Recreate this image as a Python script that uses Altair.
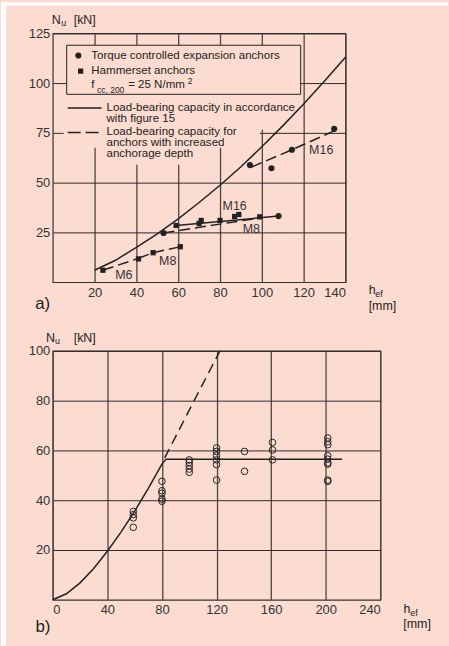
import altair as alt
import pandas as pd

PEACH = "#fcdcd0"
INK = "#222222"
LBL = "#333333"
FONT = "Liberation Sans"

# ---------------- panel a) data ----------------
a_curve_h = [20, 30, 40, 50, 60, 70, 80, 90, 100, 110, 120, 130, 140]
a_curve_N = [6.0, 11.0, 17.5, 24.3, 31.8, 40.0, 48.7, 58.0, 68.0, 78.5, 89.5, 101.0, 113.0]

a_torque_h = [53, 108, 94.3, 104.6, 114.4, 134.6]
a_torque_N = [24.7, 33.2, 58.8, 57.2, 66.5, 77.0]

a_hammer_h = [24, 41, 48, 61, 59, 70, 71, 80, 87, 89, 99]
a_hammer_N = [6.0, 11.7, 14.8, 17.8, 28.5, 29.5, 31.0, 31.0, 33.0, 34.0, 32.8]

a_solid_series = ["M16", "M16"]
a_solid_h = [59, 108]
a_solid_N = [28.5, 33.2]

a_dash_series = ["M6", "M6", "M8a", "M8a", "M8a", "M8b", "M8b", "M16u", "M16u", "M16u"]
a_dash_h = [24, 41, 41, 48, 61, 53, 99, 95, 114.4, 134.6]
a_dash_N = [6.0, 12.0, 12.0, 14.8, 17.8, 24.7, 32.3, 57.8, 66.5, 76.0]

a_label_text = ["M6", "M8", "M16", "M8", "M16"]
a_label_h = [34, 55, 87, 95, 128.4]
a_label_N = [3.6, 10.5, 38.4, 26.9, 66.2]

a_x_ticks = [20, 40, 60, 80, 100, 120, 140]
a_y_ticks = [25, 50, 75, 100, 125]

# ---------------- panel b) data ----------------
b_solid_h = [0, 10, 20, 30, 40, 50, 60, 70, 80, 83, 212]
b_solid_N = [0, 2.4, 6.8, 12.6, 19.5, 27.2, 35.6, 44.8, 54.5, 56.5, 56.5]

b_dash_h = [82, 102, 122.5]
b_dash_N = [57.0, 78.3, 100.0]

b_test_h = ([59] * 4 + [80] * 5 + [100] * 5 + [120] * 6 + [140.5] * 2
            + [161] * 3 + [201.5] * 9)
b_test_N = ([35.5, 34.2, 32.9, 29.1]
            + [47.6, 43.8, 42.8, 40.5, 39.6]
            + [56.2, 55.2, 53.9, 52.5, 51.2]
            + [61.0, 59.6, 57.9, 56.2, 54.3, 48.1]
            + [59.6, 51.6]
            + [63.2, 60.2, 56.2]
            + [65.0, 63.5, 62.3, 57.9, 56.5, 55.0, 54.5, 48.1, 47.6])

b_x_ticks = [0, 40, 80, 120, 160, 200, 240]
b_y_ticks = [20, 40, 60, 80, 100]

ONE = pd.DataFrame({"k": [0]})


def ptext(txt, x, y, size=12, align="left", baseline="middle"):
    return alt.Chart(ONE).mark_text(
        text=txt, align=align, baseline=baseline, fontSize=size, font=FONT, color=INK
    ).encode(x=alt.value(x), y=alt.value(y))


def prect(x, x2, y, y2, fill, stroke=None, sw=0):
    kw = dict(fill=fill, strokeWidth=sw)
    if stroke:
        kw["stroke"] = stroke
    return alt.Chart(ONE).mark_rect(**kw).encode(
        x=alt.value(x), x2=alt.value(x2), y=alt.value(y), y2=alt.value(y2))


def prule(x, x2, y, dash=None):
    kw = dict(color=INK, strokeWidth=1.5)
    if dash:
        kw["strokeDash"] = dash
    return alt.Chart(ONE).mark_rule(**kw).encode(
        x=alt.value(x), x2=alt.value(x2), y=alt.value(y))


def axis(vals, orient):
    return alt.Axis(values=vals, grid=True, ticks=False, domain=False, title=None,
                    labelFont=FONT, labelFontSize=13, labelColor=LBL,
                    labelPadding=3 if orient == "y" else 4,
                    gridColor="#4a4644" if orient == "x" else "#2a2a2a",
                    gridWidth=1.3 if orient == "x" else 1)

LT = 11.6  # legend text size

# ---------------- panel a) ----------------
AW, AH = 294, 250
xa = alt.X("h:Q", scale=alt.Scale(domain=[0, 140], nice=False, zero=False), axis=axis(a_x_ticks, "x"))
ya = alt.Y("N:Q", scale=alt.Scale(domain=[0, 125], nice=False, zero=False), axis=axis(a_y_ticks, "y"))

a_curve = pd.DataFrame({"h": a_curve_h, "N": a_curve_N})
a_torque = pd.DataFrame({"h": a_torque_h, "N": a_torque_N})
a_hammer = pd.DataFrame({"h": a_hammer_h, "N": a_hammer_N})
a_solid = pd.DataFrame({"s": a_solid_series, "h": a_solid_h, "N": a_solid_N})
a_dash = pd.DataFrame({"s": a_dash_series, "h": a_dash_h, "N": a_dash_N})
a_lab = pd.DataFrame({"t": a_label_text, "h": a_label_h, "N": a_label_N})

a_layers = [
    # white page margins (left / top)
    prect(-52, -47, -31, 615, "white"),
    prect(-52, 397, -31, -28, "white"),
    # blanks behind the legend text
    prect(11, 214, 61, 97, PEACH),
    prect(11, 208, 97, 115, PEACH),
    prect(48, 163, 115, 132, PEACH),
    prect(14, 249, 12, 61.3, PEACH, stroke=INK, sw=1),
    alt.Chart(a_curve).mark_line(color=INK, strokeWidth=1.5).encode(x=xa, y=ya),
    alt.Chart(a_solid).mark_line(color=INK, strokeWidth=1.5).encode(x=xa, y=ya, detail="s:N"),
    alt.Chart(a_dash).mark_line(color=INK, strokeWidth=1.5, strokeDash=[11, 5]).encode(x=xa, y=ya, detail="s:N"),
    alt.Chart(a_torque).mark_point(shape="circle", filled=True, size=38, color=INK, opacity=1).encode(x=xa, y=ya),
    alt.Chart(a_hammer).mark_point(shape="square", filled=True, size=28, color=INK, opacity=1).encode(x=xa, y=ya),
    alt.Chart(a_lab).mark_text(font=FONT, fontSize=12.5, color=LBL).encode(x=xa, y=ya, text="t:N"),
    # legend
    alt.Chart(ONE).mark_point(shape="circle", filled=True, size=38, color=INK, opacity=1).encode(x=alt.value(25.7), y=alt.value(22.3)),
    alt.Chart(ONE).mark_point(shape="square", filled=True, size=28, color=INK, opacity=1).encode(x=alt.value(28), y=alt.value(38)),
    ptext("Torque controlled expansion anchors", 38.7, 23.3, size=LT),
    ptext("Hammerset anchors", 38.7, 37.7, size=LT),
    ptext("f", 38.7, 52.3, size=LT),
    ptext("cc, 200", 44.5, 56.5, size=8.5),
    ptext("= 25 N/mm", 75.7, 52.3, size=LT),
    ptext("2", 135.5, 48.3, size=8.5),
    prule(15, 49, 75),
    ptext("Load-bearing capacity in accordance", 54, 74.8, size=LT),
    ptext("with figure 15", 54, 86, size=LT),
    prule(15, 49, 99.7, dash=[13, 5]),
    ptext("Load-bearing capacity for", 54, 98.8, size=LT),
    ptext("anchors with increased", 54, 110.2, size=LT),
    ptext("anchorage depth", 54, 121.6, size=LT),
    # axis titles / panel label
    ptext("N", -1, -13, size=12.5),
    ptext("u", 8.5, -10, size=9),
    ptext("[kN]", 21, -13, size=12.5),
    ptext("h", 317.3, 258, size=12.5),
    ptext("ef", 324, 262, size=9),
    ptext("[mm]", 317.3, 274, size=12.5),
    ptext("a)", -17.7, 272.3, size=17),
]
panel_a = alt.layer(*a_layers).properties(width=AW, height=AH)

# ---------------- panel b) ----------------
BW, BH = 329, 250
xb = alt.X("h:Q", scale=alt.Scale(domain=[0, 240], nice=False, zero=False), axis=axis(b_x_ticks, "x"))
yb = alt.Y("N:Q", scale=alt.Scale(domain=[0, 100], nice=False, zero=False), axis=axis(b_y_ticks, "y"))

b_solid = pd.DataFrame({"h": b_solid_h, "N": b_solid_N})
b_dash = pd.DataFrame({"h": b_dash_h, "N": b_dash_N})
b_test = pd.DataFrame({"h": b_test_h, "N": b_test_N})

b_layers = [
    alt.Chart(b_solid).mark_line(color=INK, strokeWidth=1.5).encode(x=xb, y=yb),
    alt.Chart(b_dash).mark_line(color=INK, strokeWidth=1.5, strokeDash=[10, 6]).encode(x=xb, y=yb),
    alt.Chart(b_test).mark_point(shape="circle", filled=False, size=44, color=INK, strokeWidth=1, opacity=1).encode(x=xb, y=yb),
    ptext("N", -6.7, -13.3, size=12.5),
    ptext("u", 2.3, -10.3, size=9),
    ptext("[kN]", 21, -13.3, size=12.5),
    ptext("h", 352.3, 259.3, size=12.5),
    ptext("ef", 359, 263.3, size=9),
    ptext("[mm]", 352, 274, size=12.5),
    ptext("b)", -17.4, 277.5, size=17),
    prect(396, 397.3, 295, 296, PEACH),
]
panel_b = alt.layer(*b_layers).properties(width=BW, height=BH)

chart = alt.vconcat(panel_a, panel_b, spacing=69, bounds="flush").properties(
    background=PEACH, padding=0
).configure_view(stroke="#333333", strokeWidth=1.2)

chart.save("out.html", embed_options={"renderer": "svg", "actions": False})
